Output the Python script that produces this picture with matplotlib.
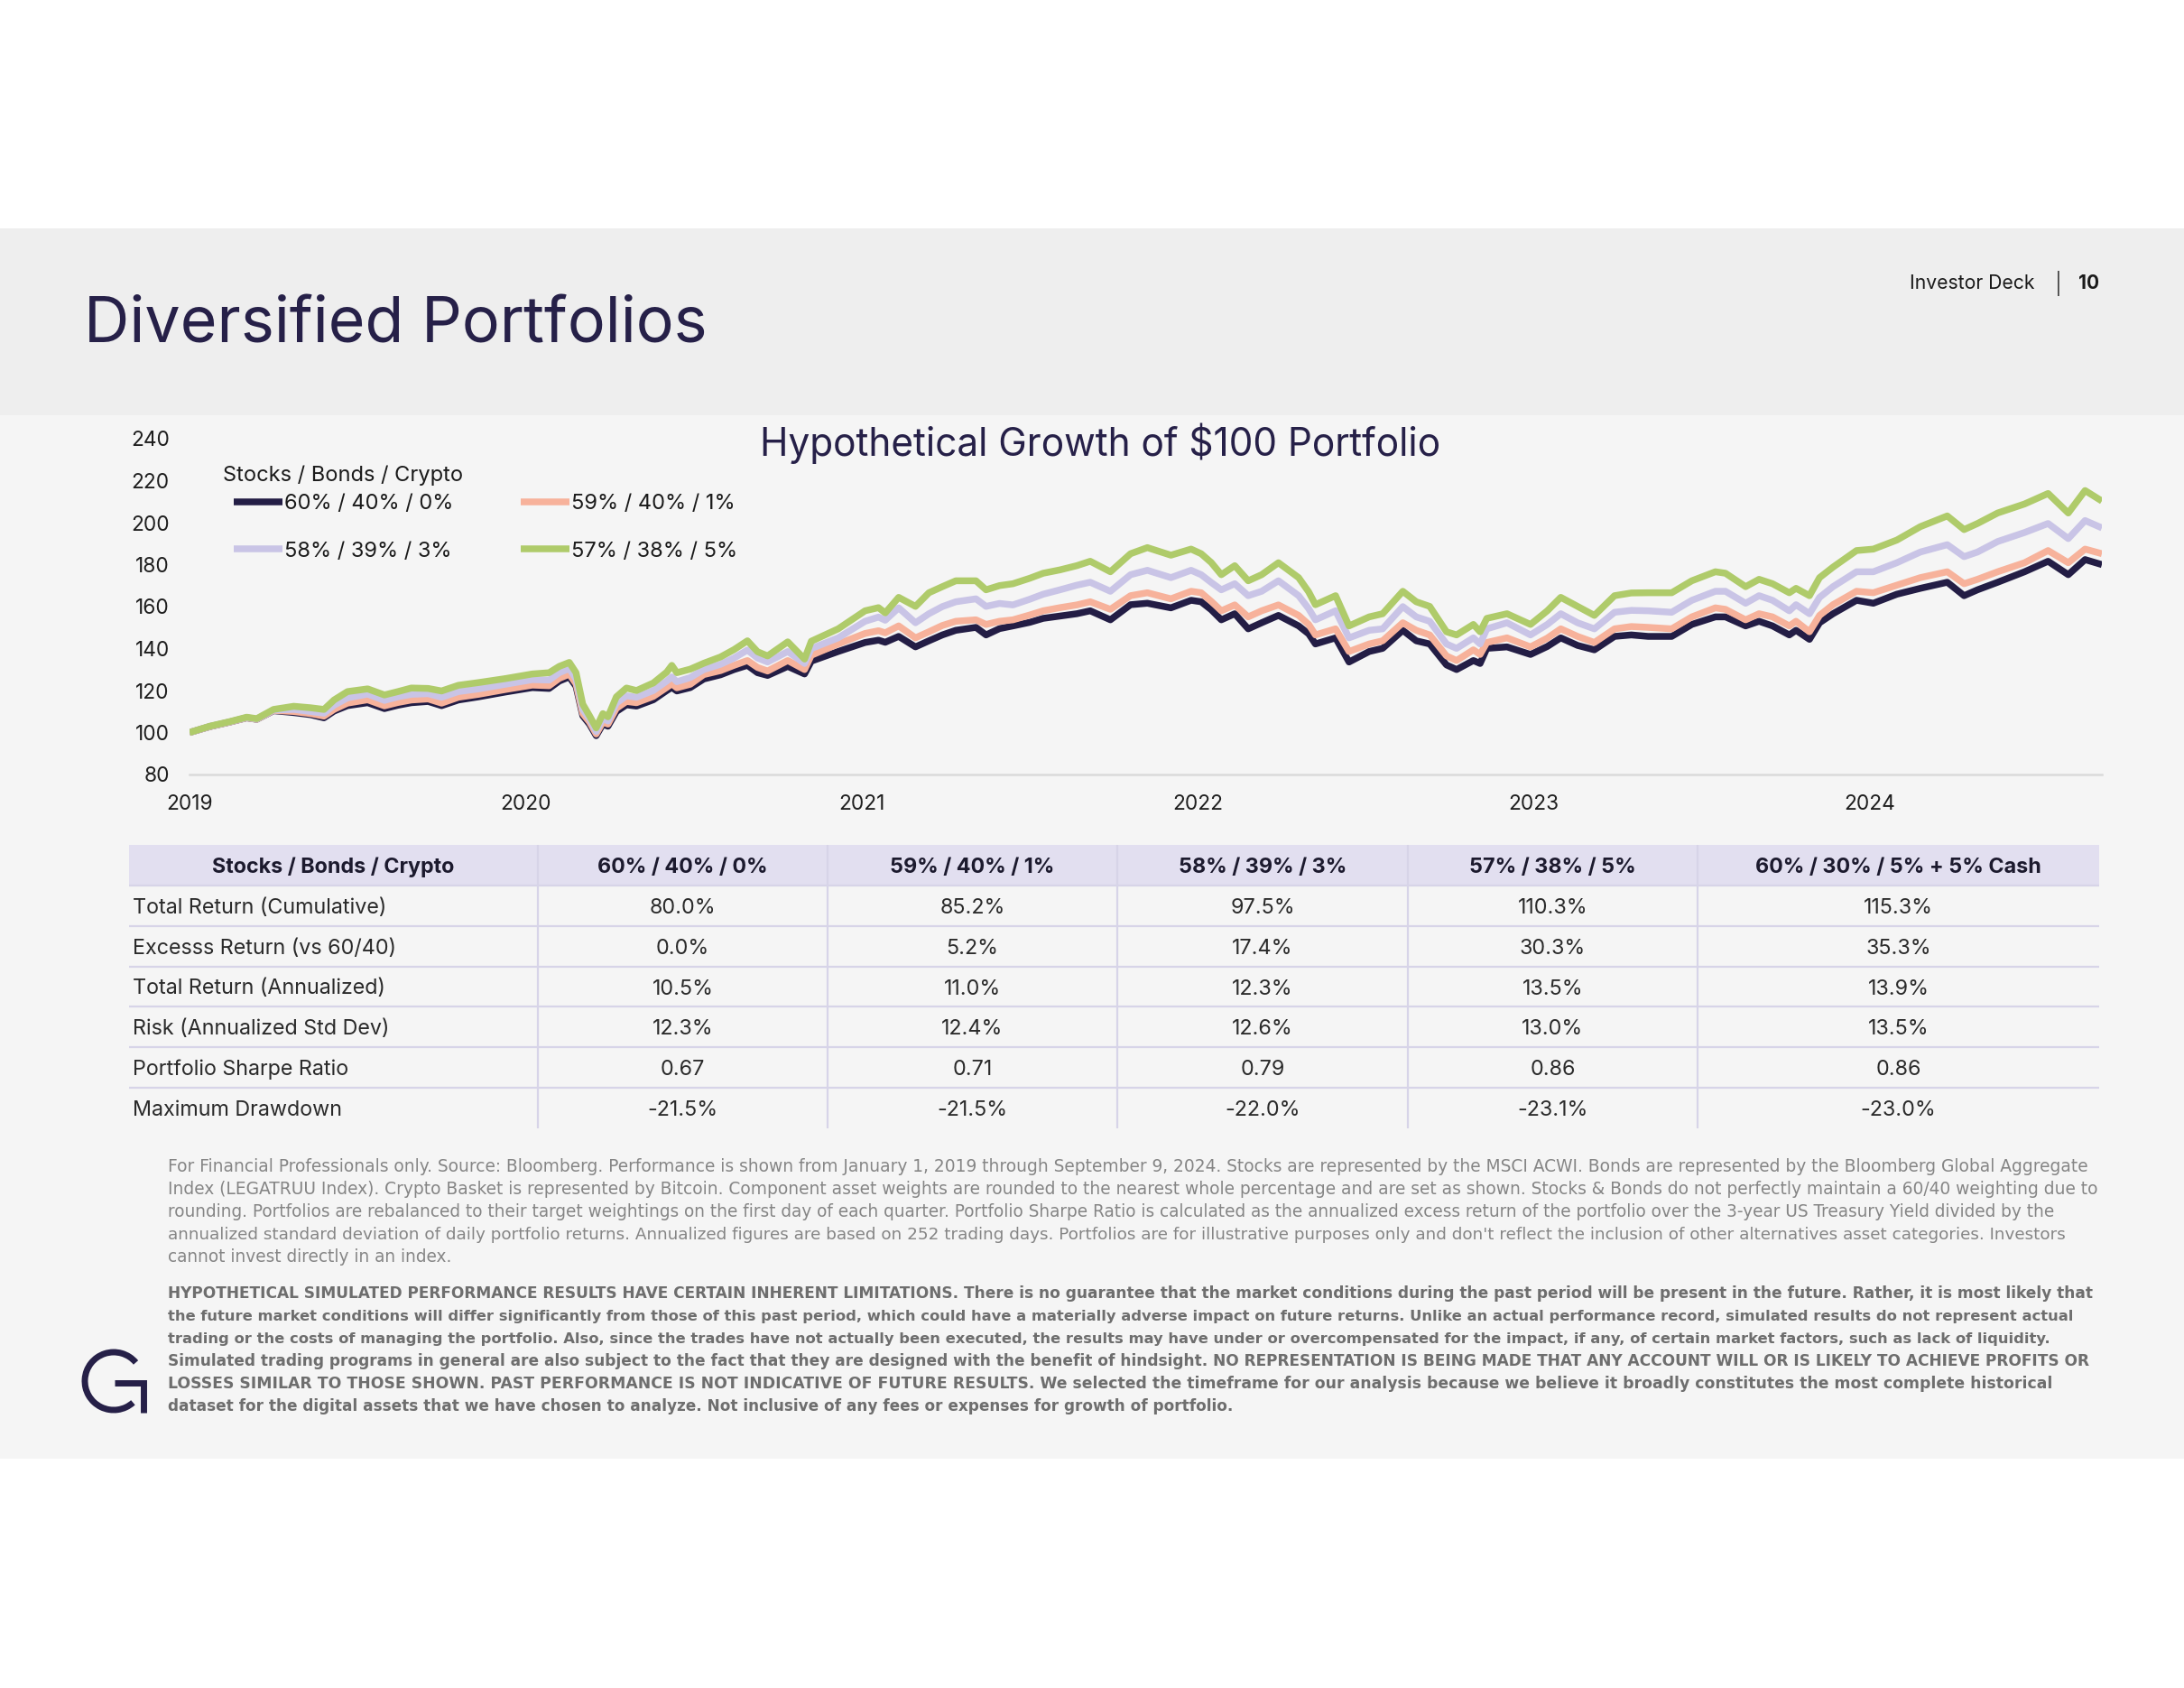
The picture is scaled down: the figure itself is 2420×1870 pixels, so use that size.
import matplotlib
matplotlib.use("Agg")
import matplotlib.pyplot as plt
from matplotlib import font_manager
from matplotlib.patches import Rectangle, Arc
import numpy as np

# ---------------- data ----------------
years = [2019.00, 2019.06, 2019.12, 2019.17, 2019.20, 2019.25, 2019.31, 2019.36, 2019.40, 2019.43,
         2019.47, 2019.53, 2019.58, 2019.62, 2019.66, 2019.71, 2019.75, 2019.80, 2019.86, 2019.94,
         2020.02, 2020.07, 2020.10, 2020.13, 2020.15, 2020.17, 2020.19, 2020.21, 2020.23, 2020.245,
         2020.27, 2020.30, 2020.33, 2020.38, 2020.42, 2020.435, 2020.45, 2020.49, 2020.53, 2020.58,
         2020.62, 2020.66, 2020.69, 2020.72, 2020.78, 2020.83, 2020.85, 2020.93,
         2021.01, 2021.05, 2021.07, 2021.11, 2021.16, 2021.20, 2021.24, 2021.28, 2021.34, 2021.37,
         2021.41, 2021.45, 2021.50, 2021.54, 2021.59, 2021.64, 2021.68, 2021.74, 2021.80, 2021.85,
         2021.92, 2021.98,
         2022.01, 2022.04, 2022.07, 2022.11, 2022.15, 2022.19, 2022.24, 2022.30, 2022.33, 2022.35,
         2022.41, 2022.45, 2022.51, 2022.55, 2022.61, 2022.65, 2022.69, 2022.74, 2022.77, 2022.82,
         2022.84, 2022.86, 2022.92, 2022.99,
         2023.04, 2023.08, 2023.13, 2023.18, 2023.24, 2023.29, 2023.34, 2023.41, 2023.47, 2023.54,
         2023.57, 2023.63, 2023.67, 2023.71, 2023.76, 2023.78, 2023.82, 2023.85, 2023.89, 2023.96,
         2024.01, 2024.08, 2024.15, 2024.23, 2024.28, 2024.32, 2024.38, 2024.46, 2024.53, 2024.59,
         2024.64, 2024.69]

p60_40_0 = [100.0, 102.8, 105.0, 107.0, 106.3, 110.4, 109.5, 108.5, 107.0, 110.2,
            112.8, 114.2, 111.4, 113.0, 114.2, 114.8, 112.8, 115.5, 117.0, 119.3,
            121.4, 121.0, 124.5, 126.5, 122.0, 108.0, 104.0, 98.5, 104.0, 103.0,
            110.0, 113.2, 112.6, 115.6, 120.0, 121.5, 119.8, 121.4, 125.5, 127.5,
            130.0, 132.0, 128.5, 127.2, 131.5, 127.9, 134.0, 138.6,
            142.9, 144.0, 143.0, 145.8, 140.8, 143.7, 146.5, 148.7, 150.1, 146.5,
            149.5, 150.8, 152.5, 154.4, 155.5, 156.6, 158.0, 153.7, 160.9, 161.6,
            159.4, 163.0,
            162.3, 158.5, 153.7, 156.6, 149.4, 152.3, 155.8, 150.8, 147.0, 142.2,
            145.1, 133.6, 138.6, 140.1, 148.7, 143.7, 142.2, 132.2, 130.0, 134.3,
            132.9, 140.1, 140.8, 137.2,
            141.0, 145.1, 141.5, 139.4, 145.8, 146.5, 145.8, 145.8, 151.5, 155.1,
            155.1, 150.8, 153.0, 150.8, 146.5, 148.7, 144.4, 152.3, 156.6, 163.0,
            161.6, 165.9, 168.7, 171.6, 165.2, 168.0, 171.6, 176.6, 181.6, 175.2,
            182.4, 180.0]

p59_40_1 = [100.0, 102.8, 105.0, 107.0, 106.3, 110.5, 110.0, 109.0, 107.8, 111.0,
            114.0, 115.6, 112.7, 114.3, 115.5, 116.0, 114.0, 116.8, 118.2, 120.5,
            122.6, 122.3, 125.8, 127.8, 123.2, 109.0, 105.0, 99.3, 105.0, 104.0,
            111.5, 114.8, 114.2, 117.2, 121.5, 123.2, 121.3, 123.0, 127.6, 129.5,
            132.0, 134.3, 131.0, 129.3, 134.3, 130.0, 136.8, 142.2,
            147.2, 148.5, 147.5, 150.8, 145.1, 148.0, 151.0, 153.0, 153.7, 151.5,
            153.0, 153.7, 156.0, 158.0, 159.5, 160.8, 162.3, 158.7, 165.2, 166.6,
            163.7, 167.3,
            166.6, 162.5, 158.0, 160.8, 155.1, 158.0, 160.8, 155.8, 151.5, 146.5,
            149.4, 138.6, 142.2, 143.7, 152.3, 148.7, 146.5, 136.5, 134.3, 139.4,
            137.2, 142.9, 145.1, 140.8,
            145.0, 149.4, 145.8, 142.9, 149.4, 150.5, 150.1, 149.4, 155.1, 159.4,
            158.7, 153.7, 156.6, 155.1, 150.8, 153.0, 148.0, 155.8, 160.9, 167.3,
            166.6, 170.2, 173.8, 176.6, 170.9, 173.0, 176.6, 180.9, 186.7, 180.9,
            187.4, 185.2]

p58_39_3 = [100.0, 102.9, 105.1, 107.1, 106.4, 110.7, 111.0, 110.0, 109.2, 113.0,
            116.5, 118.3, 115.3, 117.0, 118.2, 118.5, 116.8, 119.5, 120.8, 123.0,
            125.2, 125.0, 128.5, 130.5, 125.5, 111.0, 106.5, 100.5, 106.8, 105.5,
            114.0, 117.5, 116.8, 120.0, 124.5, 126.5, 124.2, 126.2, 130.0, 132.5,
            135.5, 139.3, 135.5, 133.6, 138.6, 132.9, 140.0, 145.1,
            153.0, 155.0, 153.5, 159.4, 152.3, 156.6, 160.0, 162.3, 163.7, 160.1,
            161.5, 160.8, 163.5, 165.9, 168.0, 170.2, 171.6, 167.3, 175.2, 177.3,
            173.8, 177.3,
            175.2, 171.5, 168.0, 170.9, 165.2, 167.3, 172.3, 165.2, 159.0, 153.7,
            158.0, 145.1, 148.7, 149.4, 160.0, 155.1, 153.0, 142.2, 140.1, 145.1,
            142.2, 149.4, 152.3, 146.5,
            151.5, 156.6, 152.3, 149.4, 157.3, 158.2, 158.0, 157.3, 163.0, 167.3,
            167.3, 161.6, 165.2, 163.0, 158.0, 160.9, 156.6, 164.4, 169.5, 176.6,
            176.6, 180.9, 186.0, 189.5, 183.8, 186.0, 191.0, 195.3, 199.6, 192.4,
            201.0, 197.5]

p57_38_5 = [100.0, 103.0, 105.2, 107.3, 106.6, 111.0, 112.5, 111.8, 111.0, 115.5,
            119.5, 120.8, 117.9, 119.5, 121.2, 121.0, 119.8, 122.5, 123.8, 125.7,
            127.9, 128.5, 131.5, 133.4, 128.5, 113.5, 108.0, 102.2, 109.0, 107.5,
            117.0, 121.2, 120.0, 123.6, 128.8, 132.0, 128.5, 130.2, 133.0, 136.0,
            139.5, 143.7, 138.5, 136.5, 143.2, 135.0, 143.5, 149.4,
            158.0, 159.5, 157.0, 164.4, 160.1, 166.6, 169.5, 172.3, 172.3, 168.0,
            170.0, 170.9, 173.5, 175.9, 177.5, 179.5, 181.6, 176.6, 185.2, 188.1,
            184.5, 187.4,
            185.2, 181.0, 175.2, 179.5, 172.3, 175.2, 180.9, 173.8, 167.0, 160.9,
            165.2, 150.8, 155.1, 156.6, 167.3, 162.3, 160.1, 148.0, 146.5, 151.5,
            148.0, 154.4, 156.6, 151.5,
            158.0, 164.4, 160.1, 155.8, 165.2, 166.5, 166.6, 166.6, 172.3, 176.6,
            175.9, 169.5, 173.0, 170.9, 166.6, 168.7, 165.2, 173.8, 178.8, 186.7,
            187.4, 191.7, 198.1, 203.2, 196.7, 199.6, 204.6, 208.9, 213.9, 204.6,
            215.3, 210.3]

legend_title = "Stocks / Bonds / Crypto"
legend_labels = ["60% / 40% / 0%", "59% / 40% / 1%", "58% / 39% / 3%", "57% / 38% / 5%"]
x_ticks = [2019, 2020, 2021, 2022, 2023, 2024]
x_tick_labels = ["2019", "2020", "2021", "2022", "2023", "2024"]
y_ticks = [80, 100, 120, 140, 160, 180, 200, 220, 240]

table_header = ["Stocks / Bonds / Crypto", "60% / 40% / 0%", "59% / 40% / 1%",
                "58% / 39% / 3%", "57% / 38% / 5%", "60% / 30% / 5% + 5% Cash"]
row_labels = ["Total Return (Cumulative)", "Excesss Return (vs 60/40)", "Total Return (Annualized)",
              "Risk (Annualized Std Dev)", "Portfolio Sharpe Ratio", "Maximum Drawdown"]
col_60_40_0 = ["80.0%", "0.0%", "10.5%", "12.3%", "0.67", "-21.5%"]
col_59_40_1 = ["85.2%", "5.2%", "11.0%", "12.4%", "0.71", "-21.5%"]
col_58_39_3 = ["97.5%", "17.4%", "12.3%", "12.6%", "0.79", "-22.0%"]
col_57_38_5 = ["110.3%", "30.3%", "13.5%", "13.0%", "0.86", "-23.1%"]
col_cash = ["115.3%", "35.3%", "13.9%", "13.5%", "0.86", "-23.0%"]

footnote_lines = [
    "For Financial Professionals only. Source: Bloomberg. Performance is shown from January 1, 2019 through September 9, 2024. Stocks are represented by the MSCI ACWI. Bonds are represented by the Bloomberg Global Aggregate",
    "Index (LEGATRUU Index). Crypto Basket is represented by Bitcoin. Component asset weights are rounded to the nearest whole percentage and are set as shown. Stocks & Bonds do not perfectly maintain a 60/40 weighting due to",
    "rounding. Portfolios are rebalanced to their target weightings on the first day of each quarter. Portfolio Sharpe Ratio is calculated as the annualized excess return of the portfolio over the 3-year US Treasury Yield divided by the",
    "annualized standard deviation of daily portfolio returns. Annualized figures are based on 252 trading days. Portfolios are for illustrative purposes only and don't reflect the inclusion of other alternatives asset categories. Investors",
    "cannot invest directly in an index.",
]
disclaimer_lines = [
    "HYPOTHETICAL SIMULATED PERFORMANCE RESULTS HAVE CERTAIN INHERENT LIMITATIONS. There is no guarantee that the market conditions during the past period will be present in the future. Rather, it is most likely that",
    "the future market conditions will differ significantly from those of this past period, which could have a materially adverse impact on future returns. Unlike an actual performance record, simulated results do not represent actual",
    "trading or the costs of managing the portfolio. Also, since the trades have not actually been executed, the results may have under or overcompensated for the impact, if any, of certain market factors, such as lack of liquidity.",
    "Simulated trading programs in general are also subject to the fact that they are designed with the benefit of hindsight. NO REPRESENTATION IS BEING MADE THAT ANY ACCOUNT WILL OR IS LIKELY TO ACHIEVE PROFITS OR",
    "LOSSES SIMILAR TO THOSE SHOWN. PAST PERFORMANCE IS NOT INDICATIVE OF FUTURE RESULTS. We selected the timeframe for our analysis because we believe it broadly constitutes the most complete historical",
    "dataset for the digital assets that we have chosen to analyze. Not inclusive of any fees or expenses for growth of portfolio.",
]

series = [p60_40_0, p59_40_1, p58_39_3, p57_38_5]
assert all(len(s) == len(years) for s in series)

# ---------------- style ----------------
W, H, DPI = 2420, 1870, 100
NAVY = "#262048"
COLORS = ["#231D45", "#F7B29B", "#C9C4E6", "#AFCB6A"]


def pick(*names):
    avail = {f.name for f in font_manager.fontManager.ttflist}
    for n in names:
        if n in avail:
            return n
    return "DejaVu Sans"


SANS = pick("Inter", "Lato", "Roboto", "DejaVu Sans")
FAM = [SANS, "DejaVu Sans"]
FOOT = ["DejaVu Sans"]
plt.rcParams["font.family"] = FAM

fig = plt.figure(figsize=(W / DPI, H / DPI), dpi=DPI)
fig.patch.set_facecolor("white")
renderer = fig.canvas.get_renderer()


def fx(x):
    return x / W


def fy(y):
    return 1 - y / H


def text_w(s, size, family, weight="normal"):
    t = fig.text(0, 0, s, fontsize=size, family=family, weight=weight)
    w = t.get_window_extent(renderer=renderer).width
    t.remove()
    return w


def fit(s, width_px, family, weight="normal", base=20.0):
    return base * width_px / text_w(s, base, family, weight)


# background bands
fig.add_artist(Rectangle((0, fy(460)), 1, (460 - 253) / H, transform=fig.transFigure,
                         facecolor="#EEEEEE", edgecolor="none", zorder=-2))
fig.add_artist(Rectangle((0, fy(1616)), 1, (1616 - 460) / H, transform=fig.transFigure,
                         facecolor="#F5F5F5", edgecolor="none", zorder=-2))

# header texts
fig.text(fx(93), fy(380), "Diversified Portfolios", family=FAM, color=NAVY, va="baseline",
         fontsize=fit("Diversified Portfolios", 690, FAM))
hdr_fs = fit("Investor Deck", 138, FAM)
fig.text(fx(2116), fy(320), "Investor Deck", family=FAM, color="#1A1A1A", va="baseline", fontsize=hdr_fs)
fig.text(fx(2281), fy(322), "|", family=FAM, color="#444444", va="baseline", ha="center", fontsize=hdr_fs * 1.1)
fig.text(fx(2303), fy(320), "10", family=FAM, color="#1A1A1A", va="baseline", weight="bold",
         fontsize=fit("10", 23, FAM, "bold"))

# ---------------- chart ----------------
ax = fig.add_axes([fx(210), fy(858), (2329 - 210) / W, (858 - 486) / H])
ax.set_facecolor("none")
handles = []
for s, c, lab in zip(series, COLORS, legend_labels):
    ln, = ax.plot(years, s, color=c, lw=5.4, label=lab, solid_joinstyle="round", solid_capstyle="butt")
    handles.append(ln)
ax.set_xlim(2019.0, 2024.69)
ax.set_ylim(80, 240)
ax.set_xticks(x_ticks)
ax.set_xticklabels(x_tick_labels)
ax.set_yticks(y_ticks)
for sp in ["top", "right", "left"]:
    ax.spines[sp].set_visible(False)
ax.spines["bottom"].set_color("#DADADA")
ax.spines["bottom"].set_linewidth(1.8)
tick_fs = fit("240", 43, FAM)
ax.tick_params(axis="both", length=0, labelsize=tick_fs, labelcolor="#1E1E1E")
ax.tick_params(axis="x", pad=16)
ax.tick_params(axis="y", pad=16)

fig.text(fx(1219), fy(505), "Hypothetical Growth of $100 Portfolio", family=FAM, color=NAVY,
         ha="center", va="baseline",
         fontsize=fit("Hypothetical Growth of $100 Portfolio", 755, FAM))

# legend
leg_fs = fit(legend_labels[0], 188, FAM)
leg_px = leg_fs * DPI / 72
fig.text(fx(247), fy(533), legend_title, family=FAM, color="#1A1A1A", va="baseline", fontsize=leg_fs)
w1 = max(text_w(legend_labels[0], leg_fs, FAM), text_w(legend_labels[2], leg_fs, FAM))
colsp = (577 - 259) - (54 + 2 + w1)
order = [0, 2, 1, 3]
leg = ax.legend([handles[i] for i in order], [legend_labels[i] for i in order], ncol=2,
                loc="upper left", bbox_to_anchor=(fx(259), fy(547)), bbox_transform=fig.transFigure,
                frameon=False, borderpad=0, borderaxespad=0, handlelength=54 / leg_px,
                handletextpad=2 / leg_px, columnspacing=colsp / leg_px, labelspacing=1.3,
                prop={"family": FAM, "size": leg_fs})
for t in leg.get_texts():
    t.set_color("#1A1A1A")

# ---------------- table ----------------
tx0, tx1, ty0, ty1 = 143, 2326, 936, 1250
tax = fig.add_axes([fx(tx0), fy(ty1), (tx1 - tx0) / W, (ty1 - ty0) / H])
tax.set_xlim(0, 1)
tax.set_ylim(0, 1)
tax.axis("off")
nrows = len(row_labels) + 1
tax.add_patch(Rectangle((0, 1 - 1 / nrows), 1, 1 / nrows, facecolor="#E2DFF0", edgecolor="none", zorder=0))
col_bounds = [143, 596, 917, 1238, 1560, 1881, 2326]
col_w = [(col_bounds[i + 1] - col_bounds[i]) / (tx1 - tx0) for i in range(6)]
cell_text = [[row_labels[i], col_60_40_0[i], col_59_40_1[i], col_58_39_3[i], col_57_38_5[i], col_cash[i]]
             for i in range(len(row_labels))]
tab = tax.table(cellText=cell_text, colLabels=table_header, colWidths=col_w, bbox=[0, 0, 1, 1],
                cellLoc="center")
tab.auto_set_font_size(False)
tab_fs = fit("Total Return (Cumulative)", 282, FAM)
tab.set_fontsize(tab_fs)
for (r, c), cell in tab.get_celld().items():
    cell.set_facecolor("none")
    cell.set_edgecolor("#D7D4E8")
    cell.set_linewidth(1.6)
    edges = ""
    if c > 0:
        edges += "L"
    if r < nrows - 1:
        edges += "B"
    cell.visible_edges = edges
    txt = cell.get_text()
    txt.set_fontfamily(FAM)
    txt.set_verticalalignment("center_baseline")
    if r == 0:
        txt.set_fontweight("bold")
        txt.set_color("#1C1A2E")
    else:
        txt.set_color("#2A2A2A")
        if c == 0:
            txt.set_horizontalalignment("left")
            cell.PAD = 4.0 / (col_bounds[1] - col_bounds[0])

# ---------------- footnotes ----------------
X0 = 186


def line_sizes(lines, ends, family, weight):
    base = 12.0
    sizes = []
    for l, e in zip(lines, ends):
        if e is None:
            sizes.append(None)
        else:
            sizes.append(base * (e - X0) / text_w(l, base, family, weight))
    mean = float(np.mean([s for s in sizes if s is not None]))
    return [mean if s is None else s for s in sizes]


fn_sizes = line_sizes(footnote_lines, [2310, 2313, 2273, 2281, None], FOOT, "normal")
for i, (l, fs) in enumerate(zip(footnote_lines, fn_sizes)):
    fig.text(fx(X0), fy(1298 + 25 * i), l, family=FOOT, color="#858585", fontsize=fs, va="baseline")

dc_sizes = line_sizes(disclaimer_lines, [2315, 2298, 2272, 2318, 2263, None], FOOT, "bold")
for i, (l, fs) in enumerate(zip(disclaimer_lines, dc_sizes)):
    fig.text(fx(X0), fy(1438 + 25 * i), l, family=FOOT, color="#6E6E6E", fontsize=fs,
             va="baseline", weight="bold")

# ---------------- logo ----------------
lax = fig.add_axes([fx(85), fy(1580), 90 / W, 90 / H])
lax.set_xlim(85, 175)
lax.set_ylim(H - 1580, H - 1490)
lax.axis("off")
lax.add_patch(Arc((126, H - 1530), 64, 64, theta1=40, theta2=312, color=NAVY, lw=5))
lax.plot([127, 159, 159], [H - 1532, H - 1532, H - 1565], color=NAVY, lw=5,
         solid_joinstyle="miter", solid_capstyle="butt")

fig.savefig("out.png", dpi=DPI, facecolor=fig.get_facecolor())
